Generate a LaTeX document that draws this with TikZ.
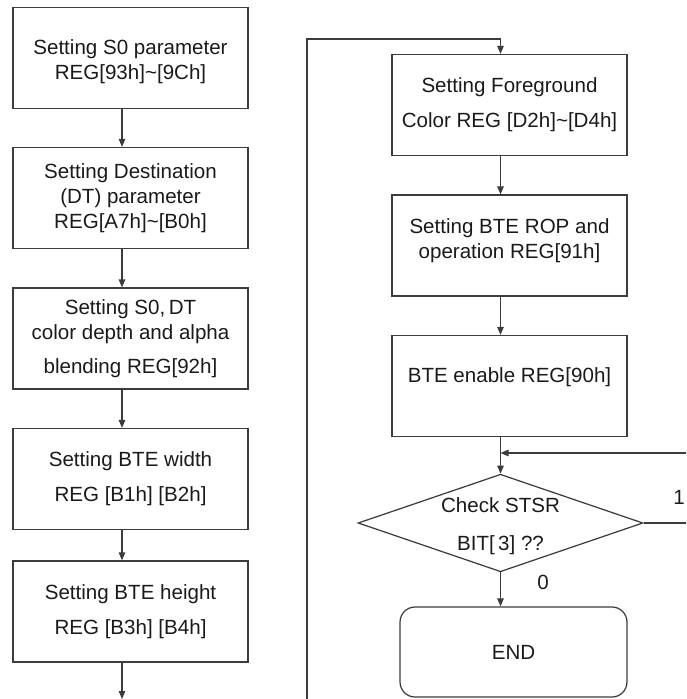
\documentclass[tikz,border=0pt]{standalone}
\usepackage{fontspec}
\setmainfont{Liberation Sans}
\usetikzlibrary{arrows.meta,shapes.geometric}
\definecolor{ink}{HTML}{1A1A1A}
\definecolor{rule}{HTML}{3C3C3C}

\begin{document}
\begin{tikzpicture}[
  x=0.02cm, y=-0.02cm,
  font=\fontsize{11.7}{14.2}\selectfont,
  text=ink,
  >={Triangle[length=0.16cm,width=0.13cm]},
  box/.style={draw=rule, line width=0.7pt, align=center, minimum width=4.7cm, minimum height=2.02cm, inner sep=2pt},
  decide/.style={diamond, draw=rule, line width=0.7pt, align=center, aspect=2.9, inner sep=0pt, minimum width=5.7cm, minimum height=1.84cm},
  term/.style={rounded corners=0.3cm, draw=rule, line width=0.7pt, minimum width=4.54cm, minimum height=1.8cm},
  arrow/.style={->, draw=rule, line width=0.7pt},
  wire/.style={draw=rule, line width=0.7pt},
]
\useasboundingbox (0,0) rectangle (686,699);

\coordinate (colL) at (122,0);
\coordinate (colR) at (500.5,0);

% left column
\node[box] (s0) at (130.5,58) {\raisebox{-0.08cm}[\height][\depth]{Setting S0 parameter}\\\raisebox{-0.08cm}[\height][\depth]{REG[93h]\textasciitilde[9Ch]}};
\node[box] (dt) at (130.5,198) {Setting Destination\\(DT) parameter\\REG[A7h]\textasciitilde[B0h]};
\node[box] (depth) at (130.5,338.5) {Setting S0,\,DT\\color depth and alpha\\[0.18cm]blending REG[92h]};
\node[box] (wd) at (130.5,479) {Setting BTE width\\[0.2cm]REG [B1h] [B2h]};
\node[box] (ht) at (130.5,611.5) {Setting BTE height\\[0.2cm]REG [B3h] [B4h]};

\draw[arrow] (s0.south -| colL) -- (dt.north -| colL);
\draw[arrow] (dt.south -| colL) -- (depth.north -| colL);
\draw[arrow] (depth.south -| colL) -- (wd.north -| colL);
\draw[arrow] (wd.south -| colL) -- (ht.north -| colL);
\coordinate (outL) at (122,699);
\draw[arrow] (ht.south -| colL) -- (outL);

% right column
\node[box] (fg) at (509.5,105) {Setting Foreground\\[0.2cm]Color REG [D2h]\textasciitilde[D4h]};
\node[box] (rop) at (509.5,245.5) {\raisebox{0.1cm}[\height][\depth]{Setting BTE ROP and}\\\raisebox{0.1cm}[\height][\depth]{operation REG[91h]}};
\node[box] (en) at (509.5,386) {\raisebox{0.18cm}[\height][\depth]{BTE enable REG[90h]}};

\coordinate (loopin) at (307,699);
\coordinate (looptop) at (307,39);
\draw[arrow] (loopin) -- (looptop) -| (fg.north -| colR);
\draw[arrow] (fg.south -| colR) -- (rop.north -| colR);
\draw[arrow] (rop.south -| colR) -- (en.north -| colR);

\node[decide] (chk) at (500.5,523) {\raisebox{-0.06cm}[\height][\depth]{Check STSR}\\[0.25cm]\raisebox{-0.06cm}[\height][\depth]{BIT[\,3] ??}};
\draw[arrow] (en.south -| colR) -- (chk.north);

\coordinate (fbin) at (686,453);
\draw[arrow] (fbin) -- (fbin -| colR);
\coordinate (fbout) at (686,523);
\draw[wire] (chk.east) -- (fbout);
\node (one) at (679,497) {1};

\node[term] (done) at (513.5,652) {END};
\draw[arrow] (chk.south) -- (chk.south |- done.north);
\node (zero) at (543,582) {0};

\end{tikzpicture}
\end{document}
